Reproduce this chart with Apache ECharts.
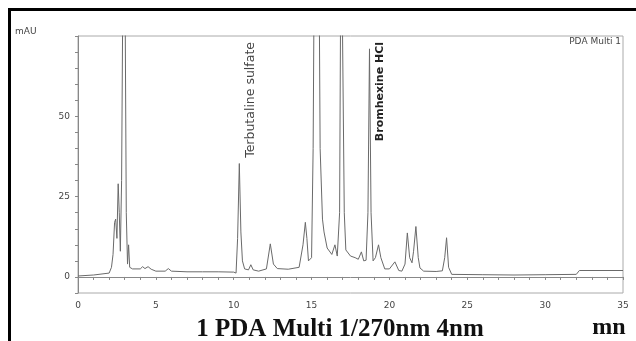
<!DOCTYPE html>
<html>
<head>
<meta charset="utf-8">
<script src="https://cdn.jsdelivr.net/npm/echarts@6/dist/echarts.min.js"></script>
<style>
  html, body { margin: 0; padding: 0; background: #fff; }
  #chart { width: 636px; height: 341px; }
</style>
</head>
<body>
<div id="chart"></div>
<script>
// retention time (min) and absorbance (mAU)
const times = [
  0.0, 1.0, 2.0, 2.15, 2.25, 2.35, 2.42, 2.5, 2.58, 2.65, 2.72, 2.8, 2.88, 2.95, 3.02, 3.1, 3.18, 3.25, 3.32,
  3.5, 4.0, 4.15, 4.3, 4.5, 4.7, 5.0, 5.6, 5.8, 6.0, 7.0, 8.0, 9.0, 10.0,
  10.15, 10.25, 10.36, 10.46, 10.56, 10.7, 10.95, 11.1, 11.25, 11.6, 12.1, 12.35, 12.55, 12.8, 13.5,
  14.2, 14.45, 14.6, 14.7, 14.8, 15.0, 15.1, 15.2, 15.45, 15.55, 15.7, 15.8, 16.0, 16.3, 16.5, 16.65,
  16.8, 16.9, 17.0, 17.1, 17.2, 17.5, 17.8, 18.0, 18.2, 18.35, 18.5, 18.62, 18.72, 18.82, 18.95,
  19.1, 19.3, 19.45, 19.7, 20.0, 20.35, 20.6, 20.8, 21.0, 21.15, 21.3, 21.45, 21.55, 21.7, 21.85, 21.96,
  22.2, 23.0, 23.4, 23.55, 23.67, 23.8, 24.0, 26.0, 28.0, 30.0, 32.0, 32.2, 35.0
];
const mAU = [
  0.3, 0.6, 1.2, 3, 7, 17, 18, 12, 29, 20, 8, 30, 90, 120, 90, 20, 4, 10, 3,
  2.5, 2.5, 3.2, 2.6, 3.2, 2.4, 1.8, 1.8, 2.6, 1.8, 1.6, 1.6, 1.6, 1.5,
  1.2, 12, 35.3, 14, 5, 2.5, 2.2, 3.8, 2.2, 1.8, 2.5, 10.3, 4, 2.6, 2.4,
  3, 10, 17, 12, 5, 6, 40, 120, 120, 40, 18, 14, 9, 7, 10, 6.5,
  20, 120, 120, 20, 8.4, 6.5, 6, 5.5, 7.8, 5, 5.2, 20, 71, 20, 5,
  6, 10, 6, 2.5, 2.5, 4.7, 2, 1.8, 4, 13.7, 6, 4.4, 8, 15.7, 6, 2.8,
  1.8, 1.7, 1.9, 6, 12.2, 3, 0.8, 0.7, 0.6, 0.7, 0.8, 2.0, 2.0
];
const xLabels = [0, 5, 10, 15, 20, 25, 30, 35];
const yLabels = [0, 25, 50];
const peakNames = ['Terbutaline sulfate', 'Bromhexine HCl'];
const peakTimes = [10.36, 18.72];

const chart = echarts.init(document.getElementById('chart'));

const option = {
  animation: false,
  grid: {
    left: 78, right: 13, top: 36, bottom: 48,
    show: true, borderColor: '#aaa', borderWidth: 1
  },
  xAxis: {
    type: 'value',
    min: 0, max: 35, interval: 1,
    axisLine: { lineStyle: { color: '#888' } },
    axisTick: { length: 3, lineStyle: { color: '#888' } },
    axisLabel: {
      margin: 8, fontSize: 9, color: '#444', fontFamily: 'DejaVu Sans',
      formatter: v => xLabels.includes(v) ? String(v) : ''
    },
    splitLine: { show: false }
  },
  yAxis: {
    type: 'value',
    min: -5, max: 75, interval: 5,
    axisLine: { show: true, lineStyle: { color: '#888' } },
    axisTick: { show: true, length: 3, lineStyle: { color: '#888' } },
    axisLabel: {
      margin: 8, fontSize: 9, color: '#444', fontFamily: 'DejaVu Sans',
      formatter: v => yLabels.includes(v) ? String(v) : ''
    },
    splitLine: { show: false }
  },
  series: [{
    type: 'line',
    data: times.map((t, i) => [t, mAU[i]]),
    symbol: 'none',
    clip: true,
    lineStyle: { color: '#6a6a6a', width: 1 }
  }]
};
chart.setOption(option);

// peak labels placed through the axis scales
const peakGraphics = peakNames.map((name, i) => {
  const p = chart.convertToPixel({ gridIndex: 0 }, [peakTimes[i], 75]);
  return {
    type: 'text',
    x: p[0] + 11, y: p[1] + 6,
    rotation: Math.PI / 2,
    style: {
      text: name,
      textAlign: 'right', textVerticalAlign: 'middle',
      font: i === 1 ? 'bold 11px "DejaVu Sans"' : '12.5px "DejaVu Sans"',
      fill: i === 1 ? '#222' : '#444'
    }
  };
});

chart.setOption({
  graphic: [
    {
      type: 'rect',
      shape: { x: 9.5, y: 9.5, width: 700, height: 400 },
      style: { fill: 'none', stroke: '#000', lineWidth: 3 }
    },
    {
      type: 'text', x: 15, y: 32,
      style: { text: 'mAU', font: '9px "DejaVu Sans"', fill: '#444', textVerticalAlign: 'middle' }
    },
    {
      type: 'text', x: 621, y: 42,
      style: { text: 'PDA Multi 1', font: '9px "DejaVu Sans"', fill: '#444', textAlign: 'right', textVerticalAlign: 'middle' }
    },
    {
      type: 'text', x: 340, y: 330,
      style: { text: '1 PDA Multi 1/270nm 4nm', font: 'bold 25px "Liberation Serif"', fill: '#111', textAlign: 'center', textVerticalAlign: 'middle' }
    },
    {
      type: 'text', x: 609, y: 328,
      style: { text: 'mn', font: 'bold 24px "Liberation Serif"', fill: '#111', textAlign: 'center', textVerticalAlign: 'middle' }
    }
  ].concat(peakGraphics)
});
</script>
</body>
</html>
